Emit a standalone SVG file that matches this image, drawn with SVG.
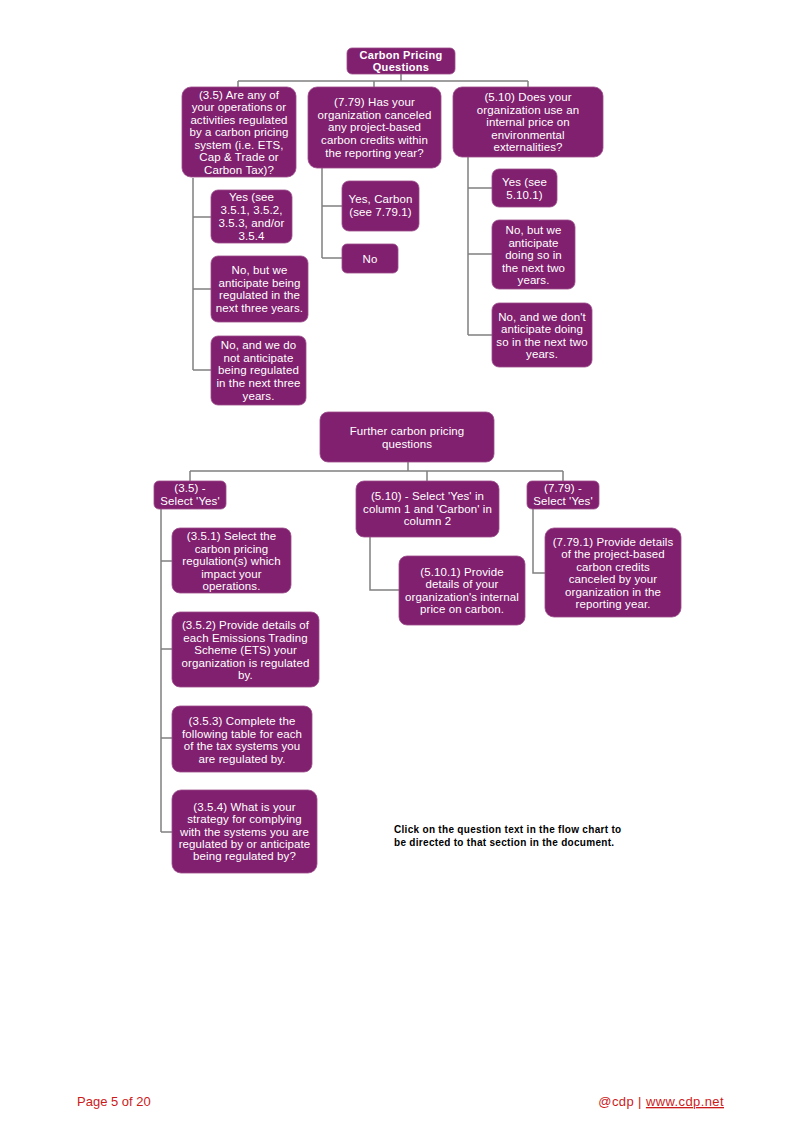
<svg xmlns="http://www.w3.org/2000/svg" width="800" height="1131" viewBox="0 0 800 1131">
<style>
.box{fill:#80206e;stroke:#9c4d8c;stroke-width:0.8}
.t{font-family:"Liberation Sans",Arial,sans-serif;font-size:11.5px;fill:#ffffff;text-anchor:middle;letter-spacing:0.1px}
.tb{font-family:"Liberation Sans",Arial,sans-serif;font-size:11px;font-weight:bold;fill:#ffffff;text-anchor:middle;letter-spacing:0.3px}
.c{fill:none;stroke:#808080;stroke-width:1.5}
.note{font-family:"Liberation Sans",Arial,sans-serif;font-size:10px;font-weight:bold;fill:#000000;letter-spacing:0.3px}
.foot{font-family:"Liberation Sans",Arial,sans-serif;font-size:13px;fill:#cc1a1a}
</style>
<rect width="800" height="1131" fill="#ffffff"/>
<g id="connectors">
<path class="c" d="M401,74V81M238,81H528M238,81V87M374,81V87M528,81V87"/>
<path class="c" d="M193,178V370M193,217H211M193,289H211M193,370H211"/>
<path class="c" d="M322,168V258M322,206H342M322,258H342"/>
<path class="c" d="M468,157V335M468,188H492M468,254H492M468,335H492"/>
<path class="c" d="M408,462V471M190,471H563M190,471V481M427,471V481M563,471V481"/>
<path class="c" d="M161,509V832M161,561H172M161,649H172M161,738H172M161,832H172"/>
<path class="c" d="M370,537V590H399"/>
<path class="c" d="M533,509V573H545"/>
</g>
<g id="n-root"><rect class="box" x="347" y="48" width="108" height="26" rx="5"/>
<text class="tb" x="401" y="59">Carbon Pricing</text><text class="tb" x="401" y="71">Questions</text></g>
<g id="n-3-5"><rect class="box" x="182" y="87" width="114" height="90" rx="9"/>
<text class="t"><tspan x="239" y="98.5">(3.5) Are any of</tspan><tspan x="239" y="111">your operations or</tspan><tspan x="239" y="123.5">activities regulated</tspan><tspan x="239" y="136">by a carbon pricing</tspan><tspan x="239" y="148.5">system (i.e. ETS,</tspan><tspan x="239" y="161">Cap &amp; Trade or</tspan><tspan x="239" y="173.5">Carbon Tax)?</tspan></text></g>
<g id="n-7-79"><rect class="box" x="308" y="87" width="133" height="81" rx="9"/>
<text class="t"><tspan x="374.5" y="106">(7.79) Has your</tspan><tspan x="374.5" y="118.7">organization canceled</tspan><tspan x="374.5" y="131.4">any project-based</tspan><tspan x="374.5" y="144.1">carbon credits within</tspan><tspan x="374.5" y="156.8">the reporting year?</tspan></text></g>
<g id="n-5-10"><rect class="box" x="453" y="87" width="150" height="70" rx="9"/>
<text class="t"><tspan x="528" y="101">(5.10) Does your</tspan><tspan x="528" y="113.5">organization use an</tspan><tspan x="528" y="126">internal price on</tspan><tspan x="528" y="138.5">environmental</tspan><tspan x="528" y="151">externalities?</tspan></text></g>
<g id="n-35-yes"><rect class="box" x="211" y="190" width="81" height="53" rx="7"/>
<text class="t"><tspan x="251.5" y="201">Yes (see</tspan><tspan x="251.5" y="214">3.5.1, 3.5.2,</tspan><tspan x="251.5" y="227">3.5.3, and/or</tspan><tspan x="251.5" y="240">3.5.4</tspan></text></g>
<g id="n-35-nobut"><rect class="box" x="211" y="256" width="97" height="66" rx="7"/>
<text class="t"><tspan x="259.5" y="274">No, but we</tspan><tspan x="259.5" y="286.7">anticipate being</tspan><tspan x="259.5" y="299.3">regulated in the</tspan><tspan x="259.5" y="312">next three years.</tspan></text></g>
<g id="n-35-noand"><rect class="box" x="211" y="336" width="95" height="69" rx="7"/>
<text class="t"><tspan x="258.5" y="349">No, and we do</tspan><tspan x="258.5" y="361.7">not anticipate</tspan><tspan x="258.5" y="374.3">being regulated</tspan><tspan x="258.5" y="387">in the next three</tspan><tspan x="258.5" y="399.7">years.</tspan></text></g>
<g id="n-779-yes"><rect class="box" x="342" y="181" width="77" height="50" rx="7"/>
<text class="t"><tspan x="380.5" y="203">Yes, Carbon</tspan><tspan x="380.5" y="216">(see 7.79.1)</tspan></text></g>
<g id="n-779-no"><rect class="box" x="342" y="244" width="56" height="29" rx="5"/>
<text class="t" x="370" y="262.5">No</text></g>
<g id="n-510-yes"><rect class="box" x="492" y="169" width="65" height="38" rx="7"/>
<text class="t"><tspan x="524.5" y="186">Yes (see</tspan><tspan x="524.5" y="199">5.10.1)</tspan></text></g>
<g id="n-510-nobut"><rect class="box" x="492" y="220" width="83" height="69" rx="7"/>
<text class="t"><tspan x="533.5" y="234">No, but we</tspan><tspan x="533.5" y="246.5">anticipate</tspan><tspan x="533.5" y="259">doing so in</tspan><tspan x="533.5" y="271.5">the next two</tspan><tspan x="533.5" y="284">years.</tspan></text></g>
<g id="n-510-noand"><rect class="box" x="492" y="303" width="100" height="64" rx="7"/>
<text class="t"><tspan x="542" y="321">No, and we don't</tspan><tspan x="542" y="333.4">anticipate doing</tspan><tspan x="542" y="345.8">so in the next two</tspan><tspan x="542" y="358.2">years.</tspan></text></g>
<g id="n-further"><rect class="box" x="320" y="412" width="174" height="50" rx="8"/>
<text class="t"><tspan x="407" y="435">Further carbon pricing</tspan><tspan x="407" y="447.5">questions</tspan></text></g>
<g id="n-sel-35"><rect class="box" x="154" y="481" width="72" height="28" rx="5"/>
<text class="t"><tspan x="190" y="492">(3.5) -</tspan><tspan x="190" y="505">Select 'Yes'</tspan></text></g>
<g id="n-sel-510"><rect class="box" x="356" y="481" width="143" height="56" rx="8"/>
<text class="t"><tspan x="427.5" y="500">(5.10) - Select 'Yes' in</tspan><tspan x="427.5" y="512.5">column 1 and 'Carbon' in</tspan><tspan x="427.5" y="525">column 2</tspan></text></g>
<g id="n-sel-779"><rect class="box" x="527" y="481" width="72" height="28" rx="5"/>
<text class="t"><tspan x="563" y="492">(7.79) -</tspan><tspan x="563" y="505">Select 'Yes'</tspan></text></g>
<g id="n-351"><rect class="box" x="172" y="528" width="119" height="65" rx="8"/>
<text class="t"><tspan x="231.5" y="540">(3.5.1) Select the</tspan><tspan x="231.5" y="552.6">carbon pricing</tspan><tspan x="231.5" y="565.2">regulation(s) which</tspan><tspan x="231.5" y="577.8">impact your</tspan><tspan x="231.5" y="590.4">operations.</tspan></text></g>
<g id="n-352"><rect class="box" x="172" y="612" width="147" height="75" rx="8"/>
<text class="t"><tspan x="245.5" y="629">(3.5.2) Provide details of</tspan><tspan x="245.5" y="641.5">each Emissions Trading</tspan><tspan x="245.5" y="654">Scheme (ETS) your</tspan><tspan x="245.5" y="666.5">organization is regulated</tspan><tspan x="245.5" y="679">by.</tspan></text></g>
<g id="n-353"><rect class="box" x="172" y="706" width="140" height="66" rx="8"/>
<text class="t"><tspan x="242" y="725">(3.5.3) Complete the</tspan><tspan x="242" y="737.5">following table for each</tspan><tspan x="242" y="750">of the tax systems you</tspan><tspan x="242" y="762.5">are regulated by.</tspan></text></g>
<g id="n-354"><rect class="box" x="172" y="790" width="145" height="83" rx="9"/>
<text class="t"><tspan x="244.5" y="811">(3.5.4) What is your</tspan><tspan x="244.5" y="823.3">strategy for complying</tspan><tspan x="244.5" y="835.6">with the systems you are</tspan><tspan x="244.5" y="847.9">regulated by or anticipate</tspan><tspan x="244.5" y="860.2">being regulated by?</tspan></text></g>
<g id="n-5101"><rect class="box" x="399" y="556" width="126" height="69" rx="8"/>
<text class="t"><tspan x="462" y="576">(5.10.1) Provide</tspan><tspan x="462" y="588.4">details of your</tspan><tspan x="462" y="600.8">organization's internal</tspan><tspan x="462" y="613.2">price on carbon.</tspan></text></g>
<g id="n-7791"><rect class="box" x="545" y="528" width="136" height="89" rx="9"/>
<text class="t"><tspan x="613" y="546">(7.79.1) Provide details</tspan><tspan x="613" y="558.4">of the project-based</tspan><tspan x="613" y="570.8">carbon credits</tspan><tspan x="613" y="583.2">canceled by your</tspan><tspan x="613" y="595.6">organization in the</tspan><tspan x="613" y="608">reporting year.</tspan></text></g>
<text class="note" x="394" y="833">Click on the question text in the flow chart to</text>
<text class="note" x="394" y="846">be directed to that section in the document.</text>
<text class="foot" x="77" y="1106">Page 5 of 20</text>
<text class="foot" x="724" y="1106" text-anchor="end" letter-spacing="0.4px">@cdp | <tspan text-decoration="underline">www.cdp.net</tspan></text>
</svg>
